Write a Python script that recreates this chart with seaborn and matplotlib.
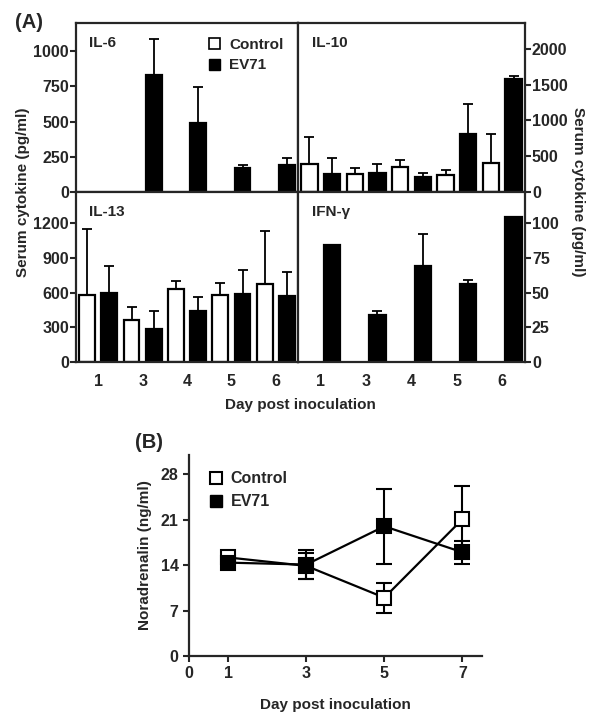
import numpy as np
import pandas as pd
import matplotlib
matplotlib.use("Agg")
import matplotlib.pyplot as plt
from matplotlib.patches import Patch
from matplotlib.lines import Line2D
import seaborn as sns

# ---- data ----
groups = ["Control", "EV71"]
days_a = ["1", "3", "4", "5", "6"]

il6_ctrl = [0, 0, 0, 0, 0]
il6_ctrl_sd = [0, 0, 0, 0, 0]
il6_ev71 = [0, 830, 489, 173, 189]
il6_ev71_sd = [0, 255, 256, 21, 52]

il10_ctrl = [392, 252, 345, 233, 410]
il10_ctrl_sd = [377, 84, 103, 70, 406]
il10_ev71 = [252, 266, 205, 812, 1580]
il10_ev71_sd = [228, 130, 65, 419, 33]

il13_ctrl = [576, 363, 630, 582, 673]
il13_ctrl_sd = [573, 109, 67, 97, 464]
il13_ev71 = [599, 282, 438, 587, 573]
il13_ev71_sd = [230, 161, 123, 205, 201]

ifn_ctrl = [0, 0, 0, 0, 0]
ifn_ctrl_sd = [0, 0, 0, 0, 0]
ifn_ev71 = [84.4, 34.2, 69.1, 56.2, 104.3]
ifn_ev71_sd = [0, 2.2, 23, 3.1, 0]

days_b = [1, 3, 5, 7]
nor_ctrl = [15.2, 13.9, 9.0, 21.1]
nor_ctrl_sd = [0.4, 2.0, 2.3, 5.1]
nor_ev71 = [14.4, 14.1, 20.0, 16.0]
nor_ev71_sd = [0.4, 2.3, 5.8, 1.8]

sns.set_style("ticks")
plt.rcParams["font.family"] = ["Liberation Sans", "DejaVu Sans"]
plt.rcParams["font.weight"] = "bold"
plt.rcParams["axes.labelweight"] = "bold"
plt.rcParams["axes.linewidth"] = 1.6

fig = plt.figure(figsize=(6, 7.2), dpi=100)
W, H = 600, 720


def px_axes(x0, y0, x1, y1):
    return fig.add_axes([x0 / W, 1 - y1 / H, (x1 - x0) / W, (y1 - y0) / H])


def bar_panel(ax, ctrl, ctrl_sd, ev, ev_sd, name, ylim, yticks, right=False, bottom=False):
    df = pd.DataFrame({
        "day": days_a * 2,
        "group": ["Control"] * 5 + ["EV71"] * 5,
        "value": ctrl + ev,
    })
    sns.barplot(data=df, x="day", y="value", hue="group", order=days_a,
                hue_order=groups, palette={"Control": "white", "EV71": "black"},
                edgecolor="black", linewidth=1.6, width=1.0, gap=0.28,
                saturation=1, errorbar=None, legend=False, ax=ax)
    for cont, sd in zip(ax.containers, [ctrl_sd, ev_sd]):
        xs, ys, es = [], [], []
        for p, e in zip(cont, sd):
            if p.get_height() == 0:
                p.set_linewidth(0)
            if e > 0:
                xs.append(p.get_x() + p.get_width() / 2)
                ys.append(p.get_height())
                es.append(e)
        if xs:
            ax.errorbar(xs, ys, yerr=[np.zeros(len(es)), es], fmt="none",
                        ecolor="black", elinewidth=1.3, capsize=3.5, capthick=1.3)
    ax.set_xlim(-0.5, 4.5)
    ax.set_ylim(*ylim)
    ax.set_yticks(yticks)
    ax.set_xlabel("")
    ax.set_ylabel("")
    for s in ax.spines.values():
        s.set_linewidth(1.6)
    ax.tick_params(axis="y", direction="out", length=4, width=1.5, labelsize=11.5, pad=1)
    ax.tick_params(axis="x", length=0, labelsize=11.5, pad=9)
    if right:
        ax.yaxis.tick_right()
    if not bottom:
        ax.set_xticklabels([])
    ax.text(0.06, 0.88, name, transform=ax.transAxes, fontsize=11, fontweight="bold",
            va="center", ha="left")


ax1 = px_axes(76, 23, 298, 192)
ax2 = px_axes(298, 23, 525, 192)
ax3 = px_axes(76, 192, 298, 362)
ax4 = px_axes(298, 192, 525, 362)

bar_panel(ax1, il6_ctrl, il6_ctrl_sd, il6_ev71, il6_ev71_sd, "IL-6",
          (0, 1200), [0, 250, 500, 750, 1000])
bar_panel(ax2, il10_ctrl, il10_ctrl_sd, il10_ev71, il10_ev71_sd, "IL-10",
          (0, 2360), [0, 500, 1000, 1500, 2000], right=True)
bar_panel(ax3, il13_ctrl, il13_ctrl_sd, il13_ev71, il13_ev71_sd, "IL-13",
          (0, 1470), [0, 300, 600, 900, 1200], bottom=True)
bar_panel(ax4, ifn_ctrl, ifn_ctrl_sd, ifn_ev71, ifn_ev71_sd, "IFN-\u03b3",
          (0, 122.5), [0, 25, 50, 75, 100], right=True, bottom=True)

ax1.legend(handles=[Patch(facecolor="white", edgecolor="black", lw=1.2, label="Control"),
                    Patch(facecolor="black", edgecolor="black", label="EV71")],
           loc="upper left", bbox_to_anchor=(0.57, 0.95), frameon=False,
           handlelength=0.75, handleheight=0.75, handletextpad=0.6,
           labelspacing=0.45, borderaxespad=0, prop={"size": 11, "weight": "bold"})

fig.text(15 / W, 1 - 22 / H, "(A)", fontsize=14.5, fontweight="bold", va="center", ha="left")
fig.text(23 / W, 1 - 192 / H, "Serum cytokine (pg/ml)", rotation=90, fontsize=11,
         fontweight="bold", va="center", ha="center")
fig.text(578 / W, 1 - 192 / H, "Serum cytokine (pg/ml)", rotation=270, fontsize=11,
         fontweight="bold", va="center", ha="center")
fig.text(300 / W, 1 - 405 / H, "Day post inoculation", fontsize=11,
         fontweight="bold", va="center", ha="center")

# ---- panel B ----
axb = px_axes(189, 455, 482, 656)
for vals, sd, face, z in [(nor_ctrl, nor_ctrl_sd, "white", 3), (nor_ev71, nor_ev71_sd, "black", 4)]:
    axb.errorbar(days_b, vals, yerr=sd, fmt="none", ecolor="black", elinewidth=1.5,
                 capsize=5.5, capthick=1.5, zorder=1)
    sns.lineplot(x=days_b, y=vals, color="black", lw=1.6, marker="s", markersize=9.5,
                 markerfacecolor=face, markeredgecolor="black", markeredgewidth=1.5,
                 zorder=z, ax=axb)
axb.set_xlim(0, 7.5)
axb.set_ylim(0, 31)
axb.set_xticks([0, 1, 3, 5, 7])
axb.set_yticks([0, 7, 14, 21, 28])
sns.despine(ax=axb)
axb.spines["left"].set_linewidth(1.6)
axb.spines["bottom"].set_linewidth(1.6)
axb.tick_params(direction="out", length=4, width=1.5, labelsize=11.5)
axb.set_xlabel("Day post inoculation", fontsize=11, fontweight="bold", labelpad=12)
axb.set_ylabel("Noradrenalin (ng/ml)", fontsize=11, fontweight="bold", labelpad=6)
axb.legend(handles=[Line2D([], [], ls="none", marker="s", markersize=9, markerfacecolor="white",
                           markeredgecolor="black", markeredgewidth=1.5, label="Control"),
                    Line2D([], [], ls="none", marker="s", markersize=9, markerfacecolor="black",
                           markeredgecolor="black", label="EV71")],
           loc="upper left", bbox_to_anchor=(0.05, 0.95), frameon=False, handlelength=0.8,
           handletextpad=0.5, labelspacing=0.5, borderaxespad=0,
           prop={"size": 11.5, "weight": "bold"})
fig.text(135 / W, 1 - 443 / H, "(B)", fontsize=14.5, fontweight="bold", va="center", ha="left")

fig.savefig("out.png", dpi=100, facecolor="white")
